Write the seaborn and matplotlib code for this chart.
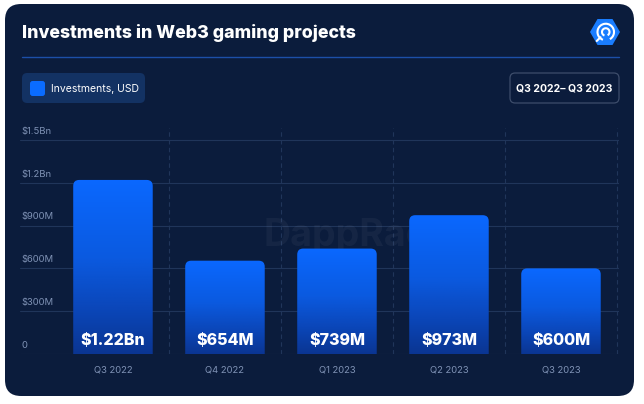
import numpy as np
import pandas as pd
import matplotlib
matplotlib.use("Agg")
import matplotlib.pyplot as plt
import seaborn as sns
from matplotlib.patches import FancyBboxPatch, RegularPolygon, Arc
from matplotlib.colors import LinearSegmentedColormap
import matplotlib.transforms as mtransforms

quarters = ["Q3 2022", "Q4 2022", "Q1 2023", "Q2 2023", "Q3 2023"]
investments = [1.22e9, 654e6, 739e6, 973e6, 600e6]
bar_labels = ["$1.22Bn", "$654M", "$739M", "$973M", "$600M"]
ytick_vals = [0, 300e6, 600e6, 900e6, 1.2e9, 1.5e9]
ytick_labels = ["0", "$300M", "$600M", "$900M", "$1.2Bn", "$1.5Bn"]

df = pd.DataFrame({"quarter": quarters, "usd": investments})

sns.set_theme(style="white")
plt.rcParams["font.family"] = ["Inter", "DejaVu Sans"]

W, H = 644, 404
fig = plt.figure(figsize=(W / 100, H / 100), dpi=100)
fig.patch.set_facecolor("white")

card_col = "#0b1c3c"
grid_col = "#20355a"
tick_col = "#7f92b5"


def fx(px):
    return px / W


def fy(py):
    return 1 - py / H


# dark rounded card (behind everything)
card = FancyBboxPatch((fx(5), fy(396)), fx(629), 392 / H,
                      boxstyle="round,pad=0,rounding_size=0.025",
                      mutation_aspect=W / H,
                      transform=fig.transFigure, facecolor=card_col,
                      edgecolor="none", zorder=-5)
fig.patches.append(card)

# header
fig.text(fx(22), fy(33), "Investments in Web3 gaming projects", color="white",
         fontsize=12.8, fontweight="heavy", va="center", ha="left")
fig.add_artist(plt.Line2D([fx(22), fx(619)], [fy(57), fy(57)],
                          color="#1c4fa8", lw=1, transform=fig.transFigure))

# legend box
fig.patches.append(FancyBboxPatch((fx(22), fy(103)), fx(123), 30 / H,
                                  boxstyle="round,pad=0,rounding_size=0.008",
                                  mutation_aspect=W / H,
                                  transform=fig.transFigure, facecolor="#133263",
                                  edgecolor="none", zorder=1))
fig.patches.append(FancyBboxPatch((fx(30), fy(96)), fx(15), 15 / H,
                                  boxstyle="round,pad=0,rounding_size=0.004",
                                  mutation_aspect=W / H,
                                  transform=fig.transFigure, facecolor="#0a6cff",
                                  edgecolor="none", zorder=2))
fig.text(fx(51), fy(88.5), "Investments, USD", color="white", fontsize=7.5,
         va="center", ha="left")

# date range box
fig.patches.append(FancyBboxPatch((fx(510), fy(103)), fx(109), 30 / H,
                                  boxstyle="round,pad=0,rounding_size=0.008",
                                  mutation_aspect=W / H,
                                  transform=fig.transFigure, facecolor=card_col,
                                  edgecolor="#3d4d6b", lw=0.9, zorder=1))
fig.text(fx(564.5), fy(88.5), "Q3 2022\u2013 Q3 2023", color="white", fontsize=7.5,
         fontweight="bold", va="center", ha="center")

# logo
lax = fig.add_axes([fx(590), fy(47), fx(30), 30 / H])
lax.set_xlim(-1, 1)
lax.set_ylim(-1, 1)
lax.set_aspect("equal")
lax.axis("off")
lax.add_patch(RegularPolygon((0, 0), 6, radius=1.0, orientation=np.pi / 6,
                             facecolor="#1a7dff", edgecolor="none"))
lax.add_patch(Arc((0.05, 0.0), 1.1, 1.1, theta1=-60, theta2=250, color="white", lw=1.5))
lax.add_patch(Arc((0.05, 0.0), 0.5, 0.5, theta1=-60, theta2=250, color="white", lw=1.5))
lax.plot([-0.3, -0.55], [-0.35, -0.6], color="white", lw=1.5)

# main axes
ax = fig.add_axes([fx(20), fy(354), fx(599), 226 / H])
ax.set_facecolor("none")
sns.barplot(data=df, x="quarter", y="usd", ax=ax, width=0.71, color="#0a6cff")
ax.set_ylim(0, 1.584e9)
ax.set_xlim(-0.83, 4.518)

for s in ax.spines.values():
    s.set_visible(False)

# grid
for v in ytick_vals:
    ax.axhline(v, color=grid_col, lw=0.8, zorder=0.5)
for b in np.arange(len(quarters)) + 0.5:
    ax.axvline(b, color=grid_col, lw=0.8, ls=(0, (4, 3)), zorder=0.5)

ax.set_yticks([])
trans = mtransforms.blended_transform_factory(ax.transAxes, ax.transData)
for v, lab in zip(ytick_vals, ytick_labels):
    ax.annotate(lab, xy=(0.002, v), xycoords=trans, xytext=(0, 3),
                textcoords="offset points", color=tick_col, fontsize=6.8,
                ha="left", va="bottom")

ax.set_xlabel("")
ax.set_ylabel("")
ax.tick_params(axis="x", length=0, pad=8, colors=tick_col, labelsize=6.8)

# watermark
ax.text(2.25, 830e6, "DappRadar", color="white", alpha=0.045, fontsize=27,
        fontweight="bold", ha="center", va="center", zorder=0.6)
ax.add_patch(RegularPolygon((0.8, 830e6), 6, radius=0.2, orientation=np.pi / 6,
                            facecolor="white", alpha=0.045, edgecolor="none",
                            zorder=0.6))

# gradient bars with rounded tops
cmap = LinearSegmentedColormap.from_list(
    "bar", [(0, "#0a3592"), (0.25, "#0b46b8"), (0.55, "#0b5ae0"), (1, "#0a68ff")])
grad = np.linspace(0, 1, 256).reshape(-1, 1)
xpp = (ax.get_xlim()[1] - ax.get_xlim()[0]) / (599)
ypp = (ax.get_ylim()[1] - ax.get_ylim()[0]) / 226
for p, lab in zip(list(ax.patches), bar_labels):
    x0, w, h = p.get_x(), p.get_width(), p.get_height()
    p.set_visible(False)
    rb = FancyBboxPatch((x0, -10 * ypp), w, h + 10 * ypp,
                        boxstyle="round,pad=0,rounding_size=%f" % (6 * xpp),
                        mutation_aspect=ypp / xpp, facecolor="none",
                        edgecolor="none", zorder=2)
    ax.add_patch(rb)
    im = ax.imshow(grad, cmap=cmap, origin="lower", aspect="auto",
                   extent=(x0, x0 + w, 0, h), zorder=2)
    im.set_clip_path(rb)
    ax.annotate(lab, xy=(x0 + w / 2, 0), xytext=(0, 10), textcoords="offset points",
                ha="center", va="center", color="white", fontsize=11.5,
                fontweight="heavy", zorder=3)

ax.set_xlim(-0.83, 4.518)
ax.set_ylim(0, 1.584e9)

fig.savefig("out.png", dpi=100, facecolor="white")
